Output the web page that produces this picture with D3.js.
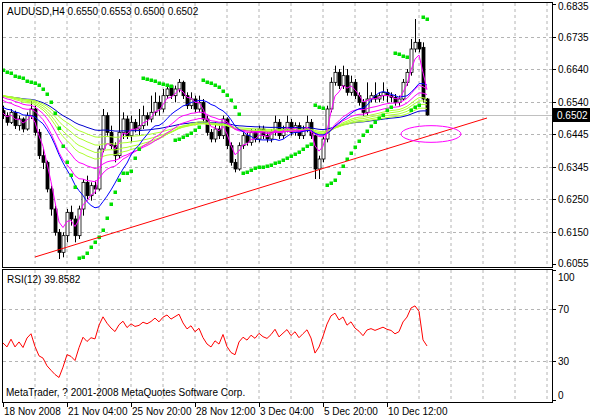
<!DOCTYPE html>
<html><head><meta charset="utf-8">
<script src="https://cdn.jsdelivr.net/npm/d3@7"></script>
<style>
body{margin:0;background:#fff}
text{font-family:"Liberation Sans",Arial,sans-serif;font-size:10px;fill:#000}
</style></head>
<body><svg id="chart" width="590" height="418"></svg>
<script>
// hidden history before the first visible bar (only feeds the moving averages and RSI)
var priorCloses = [.6540,.6570,.6600,.6630,.6650,.6670,.6680,.6690,.6700,.6690,.6680,.6670,.6660,.6640,.6620,
                   .6600,.6580,.6560,.6540,.6560,.6520,.6550,.6510,.6540,.6500,.6535,.6495,.6525,.6500,.6515];
var opens  = [.6515,.6500,.6480,.6510,.6470,.6490,.6460,.6500,.6520,.6450,.6380,.6360,.6280,.6220,.6150,.6090,.6140,.6210,.6190,.6140,
              .6220,.6300,.6260,.6290,.6280,.6400,.6500,.6450,.6410,.6380,.6450,.6490,.6440,.6480,.6460,.6470,.6500,.6490,.6510,.6540,
              .6520,.6560,.6590,.6560,.6580,.6600,.6560,.6530,.6550,.6520,.6540,.6490,.6450,.6430,.6460,.6440,.6490,.6410,.6360,.6340,
              .6410,.6440,.6420,.6450,.6430,.6460,.6440,.6430,.6450,.6480,.6440,.6460,.6480,.6450,.6470,.6440,.6460,.6480,.6440,.6340,
              .6370,.6430,.6520,.6600,.6630,.6590,.6620,.6570,.6600,.6560,.6540,.6510,.6550,.6560,.6550,.6560,.6570,.6560,.6555,.6540,
              .6550,.6600,.6630,.6700,.6720,.6705,.6550];
var highs  = [.6530,.6510,.6520,.6515,.6500,.6495,.6510,.6545,.6530,.6460,.6400,.6365,.6290,.6230,.6160,.6150,.6220,.6230,.6200,.6230,
              .6310,.6320,.6300,.6305,.6410,.6520,.6510,.6470,.6420,.6610,.6510,.6500,.6500,.6490,.6520,.6530,.6510,.6560,.6570,.6560,
              .6580,.6590,.6590,.6590,.6610,.6605,.6570,.6570,.6560,.6560,.6550,.6500,.6460,.6480,.6470,.6500,.6495,.6420,.6370,.6420,
              .6450,.6450,.6460,.6460,.6470,.6470,.6450,.6460,.6500,.6490,.6470,.6500,.6490,.6480,.6480,.6470,.6500,.6490,.6450,.6380,
              .6440,.6530,.6615,.6650,.6640,.6650,.6640,.6620,.6610,.6570,.6550,.6600,.6570,.6600,.6570,.6600,.6580,.6570,.6565,.6560,
              .6610,.6640,.6730,.6790,.6730,.6720,.6553];
var lows   = [.6490,.6470,.6475,.6460,.6455,.6450,.6455,.6490,.6440,.6370,.6340,.6270,.6200,.6140,.6070,.6075,.6120,.6170,.6120,.6130,
              .6200,.6250,.6245,.6265,.6275,.6390,.6440,.6400,.6360,.6370,.6430,.6430,.6420,.6450,.6440,.6460,.6470,.6480,.6500,.6500,
              .6510,.6550,.6550,.6540,.6570,.6550,.6520,.6520,.6510,.6510,.6480,.6440,.6420,.6420,.6430,.6430,.6400,.6350,.6330,.6335,
              .6400,.6410,.6410,.6420,.6420,.6430,.6420,.6420,.6440,.6430,.6430,.6450,.6440,.6440,.6430,.6430,.6450,.6430,.6310,.6310,
              .6360,.6420,.6510,.6590,.6580,.6580,.6560,.6560,.6550,.6530,.6500,.6500,.6540,.6540,.6540,.6545,.6540,.6540,.6530,.6530,
              .6545,.6590,.6620,.6690,.6690,.6540,.6500];
var closes = [.6500,.6480,.6510,.6470,.6490,.6460,.6500,.6520,.6450,.6380,.6360,.6280,.6220,.6150,.6090,.6140,.6210,.6190,.6140,.6220,
              .6300,.6260,.6290,.6280,.6400,.6500,.6450,.6410,.6380,.6450,.6490,.6440,.6480,.6460,.6470,.6500,.6490,.6510,.6540,.6520,
              .6560,.6580,.6560,.6580,.6600,.6560,.6530,.6550,.6520,.6540,.6490,.6450,.6430,.6460,.6440,.6490,.6410,.6360,.6340,.6410,
              .6440,.6420,.6450,.6430,.6460,.6440,.6430,.6450,.6480,.6440,.6460,.6480,.6450,.6470,.6440,.6460,.6480,.6440,.6340,.6370,
              .6430,.6520,.6600,.6630,.6590,.6620,.6570,.6600,.6560,.6540,.6510,.6550,.6560,.6550,.6560,.6570,.6560,.6555,.6540,.6550,
              .6600,.6630,.6700,.6720,.6700,.6550,.6502];
// parabolic SAR dots
var sarValues = [.6637,.6631,.6628,.6619,.6616,.6613,.6604,.6601,.6598,.6592,.6580,.6565,.6541,.6508,.6463,.6409,.6361,.6322,.6286,
                 .6073,.6076,.6088,.6106,.6121,.6136,.6157,.6193,.6235,.6271,.6307,.6328,.6328,.6334,.6373,.6400,
                 .6613,.6610,.6607,.6604,.6598,.6595,.6592,.6589,
                 .6427,.6430,.6436,.6442,.6448,.6457,.6466,
                 .6607,.6601,.6598,.6592,.6586,.6574,.6562,.6547,.6526,.6505,
                 .6328,.6331,.6337,.6343,.6346,.6346,.6349,.6352,.6358,.6361,.6367,.6373,.6379,.6385,.6391,.6400,.6409,.6415,
                 .6532,.6526,.6523,
                 .6292,.6298,.6307,.6328,.6349,.6370,.6388,.6406,.6424,.6442,.6454,.6469,.6481,.6493,.6502,.6517,.6526,
                 .6688,.6685,.6679,.6676,
                 .6517,.6526,.6532,
                 .6796,.6790];
var priceTicks = [0.6835,0.6735,0.6640,0.6540,0.6445,0.6345,0.6250,0.6150,0.6055];
var rsiTicks = [100,70,30,0];
var dateBars = [0,16,32,48,64,80,96];
var dateLabels = ["18 Nov 2008","21 Nov 04:00","25 Nov 20:00","28 Nov 12:00","3 Dec 04:00","5 Dec 20:00","10 Dec 12:00"];
var trendLine = [[8,0.6076],[121,0.6493]];
var marker = {bar:107, price:0.6445, rBars:7.5, rPrice:0.0025};

var svg = d3.select("#chart");
var x = d3.scaleLinear().domain([0,1]).range([3,7]);
var y = d3.scaleLinear().domain([0.6055,0.6835]).range([264,4]);
var yr = d3.scaleLinear().domain([0,100]).range([400,270]);
var n = closes.length, np = priorCloses.length;
var all = priorCloses.concat(closes);

function sma(p){ return all.map(function(d,i){ if(i<p-1) return null; return d3.mean(all.slice(i-p+1,i+1)); }).slice(np); }
function ema(p){ var k=2/(p+1), v=all[0]; return all.map(function(d){ v=v+k*(d-v); return v; }).slice(np); }

// RSI(12), Wilder smoothing
var rsi = (function(){
    var p=12, ag=0, al=0, out=[];
    for(var i=1;i<all.length;i++){
        var ch=all[i]-all[i-1], g=Math.max(ch,0), l=Math.max(-ch,0);
        if(i<=p){ ag+=g/p; al+=l/p; } else { ag=(ag*(p-1)+g)/p; al=(al*(p-1)+l)/p; }
        out[i]= al==0 ? 100 : 100-100/(1+ag/al);
    }
    return out.slice(np);
})();

var lines = [
    {v:ema(89),c:"#0000cc"},{v:ema(70),c:"#adff2f"},{v:ema(55),c:"#adff2f"},{v:ema(45),c:"#adff2f"},{v:ema(38),c:"#adff2f"},
    {v:ema(30),c:"#ff00ff"},{v:ema(21),c:"#ff00ff"},{v:sma(14),c:"#0000ff"},{v:ema(4),c:"#ff00ff"}
];

svg.append("defs").append("clipPath").attr("id","cp").append("rect")
    .attr("x",3).attr("y",3).attr("width",549).attr("height",264);

// grid
var grid = svg.append("g").attr("stroke","#b4b4b4").attr("stroke-dasharray","3,3");
for(var b=8;x(b)<552;b+=8){
    grid.append("line").attr("x1",x(b)).attr("x2",x(b)).attr("y1",3).attr("y2",267);
    grid.append("line").attr("x1",x(b)).attr("x2",x(b)).attr("y1",270).attr("y2",402);
}
priceTicks.slice(1,-1).forEach(function(t){
    grid.append("line").attr("x1",3).attr("x2",552).attr("y1",Math.round(y(t))+.5).attr("y2",Math.round(y(t))+.5);
});
[70,30].forEach(function(t){
    grid.append("line").attr("x1",3).attr("x2",552).attr("y1",Math.round(yr(t))+.5).attr("y2",Math.round(yr(t))+.5);
});

var main = svg.append("g").attr("clip-path","url(#cp)");
main.append("line").attr("x1",3).attr("x2",552)
    .attr("y1",Math.round(y(closes[n-1]))+.5).attr("y2",Math.round(y(closes[n-1]))+.5).attr("stroke","#c0c0c0");

// candles
var bars = main.selectAll("g.bar").data(d3.range(n)).enter().append("g");
bars.append("line").attr("x1",function(i){return Math.round(x(i))+.5;}).attr("x2",function(i){return Math.round(x(i))+.5;})
    .attr("y1",function(i){return y(highs[i]);}).attr("y2",function(i){return y(lows[i]);}).attr("stroke","#000");
bars.append("rect").attr("x",function(i){return Math.round(x(i))-1;}).attr("width",3)
    .attr("y",function(i){return y(Math.max(opens[i],closes[i]));})
    .attr("height",function(i){return Math.max(1,Math.abs(y(opens[i])-y(closes[i])));})
    .attr("fill",function(i){return closes[i]>=opens[i]?"#fff":"#000";}).attr("stroke","#000").attr("stroke-width",0.8);

// moving averages
var ln = d3.line().defined(function(d){return d!=null;}).x(function(d,i){return x(i);}).y(function(d){return y(d);});
lines.forEach(function(l){
    main.append("path").attr("d",ln(l.v)).attr("fill","none").attr("stroke",l.c).attr("stroke-width",1);
});

// SAR
main.selectAll("rect.sar").data(sarValues).enter().append("rect").attr("class","sar")
    .attr("x",function(d,i){return x(i)-1.5;}).attr("y",function(d){return y(d)-1.5;})
    .attr("width",3.5).attr("height",3.5).attr("fill","#00e000");

// trend line and marker
main.append("line").attr("x1",x(trendLine[0][0])).attr("y1",y(trendLine[0][1]))
    .attr("x2",x(trendLine[1][0])).attr("y2",y(trendLine[1][1])).attr("stroke","#ff0000");
main.append("ellipse").attr("cx",x(marker.bar)).attr("cy",y(marker.price))
    .attr("rx",x(marker.rBars)-x(0)).attr("ry",y(0.6)-y(0.6+marker.rPrice))
    .attr("fill","none").attr("stroke","#ff00ff");

// RSI
var rl = d3.line().defined(function(d){return d!=null;}).x(function(d,i){return x(i);}).y(function(d){return yr(d);});
svg.append("path").attr("d",rl(rsi)).attr("fill","none").attr("stroke","#ff0000");

// frames
svg.append("rect").attr("x",2.5).attr("y",2.5).attr("width",550).attr("height",265).attr("fill","none").attr("stroke","#000");
svg.append("rect").attr("x",2.5).attr("y",269.5).attr("width",550).attr("height",133).attr("fill","none").attr("stroke","#000");

// axes text
priceTicks.forEach(function(t){
    var yy=Math.round(y(t));
    svg.append("line").attr("x1",553).attr("x2",556).attr("y1",yy+.5).attr("y2",yy+.5).attr("stroke","#000");
    svg.append("text").attr("x",558).attr("y",Math.min(Math.max(yy+4,10),267)).text(t.toFixed(4));
});
rsiTicks.forEach(function(t){
    var yy=Math.round(yr(t));
    svg.append("line").attr("x1",553).attr("x2",556).attr("y1",yy+.5).attr("y2",yy+.5).attr("stroke","#000");
    svg.append("text").attr("x",558).attr("y",Math.min(Math.max(yy+4,281),399)).text(t);
});
svg.append("rect").attr("x",553).attr("y",Math.round(y(closes[n-1]))-7).attr("width",37).attr("height",14).attr("fill","#000");
svg.append("text").attr("x",557).attr("y",Math.round(y(closes[n-1]))+4).style("fill","#fff").text(closes[n-1].toFixed(4));

dateBars.forEach(function(b,k){
    svg.append("line").attr("x1",Math.round(x(b))+.5).attr("x2",Math.round(x(b))+.5).attr("y1",403).attr("y2",407).attr("stroke","#000");
    svg.append("text").attr("x",x(b)+1).attr("y",415).text(dateLabels[k]);
});

svg.append("text").attr("x",7).attr("y",15).text("AUDUSD,H4  0.6550 0.6553 0.6500 0.6502");
svg.append("text").attr("x",7).attr("y",283).text("RSI(12) 39.8582");
svg.append("text").attr("x",6).attr("y",396).text("MetaTrader, ? 2001-2008 MetaQuotes Software Corp.");
</script></body></html>
